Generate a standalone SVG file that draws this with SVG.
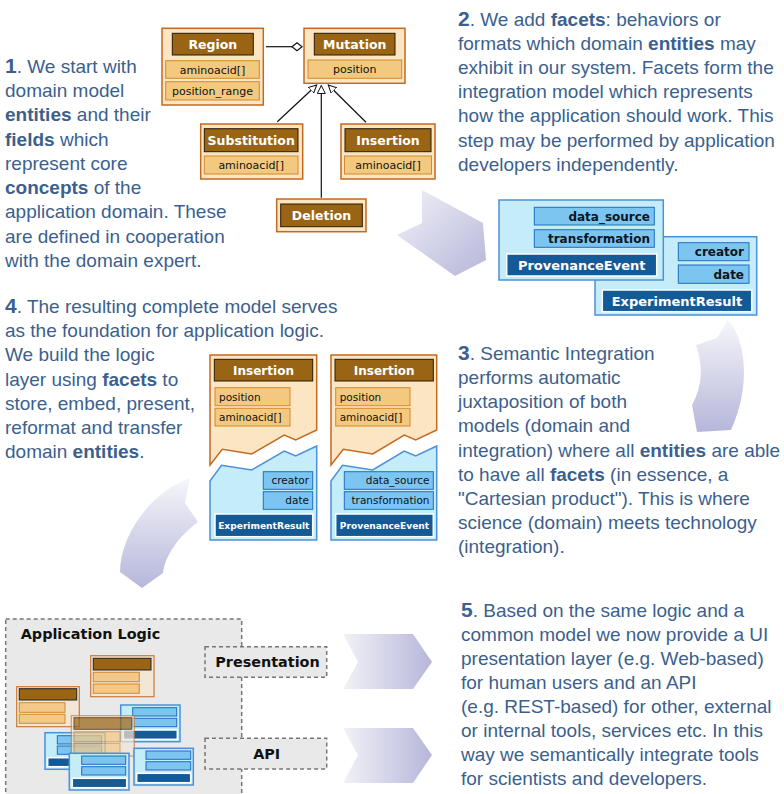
<svg xmlns="http://www.w3.org/2000/svg" width="784" height="794" viewBox="0 0 784 794">
<defs>
<style>
.txt{font-family:"Liberation Sans",Arial,sans-serif;font-size:19px;fill:#3c5f8d}
.num{font-weight:bold;font-size:21px}
.b{font-weight:bold}
.obox{fill:#fbe5c3;stroke:#c46a1f;stroke-width:1.5}
.ohead{fill:#996515;stroke:#2a1a05;stroke-width:1}
.ofld{fill:#f2c97e;stroke:#d5892e;stroke-width:1}
.bbox{fill:#c5edf9;stroke:#4b90d8;stroke-width:1.5}
.bfld{fill:#7cc5f0;stroke:#1f6ec0;stroke-width:1}
.bhead{fill:#145a96;stroke:#ffffff;stroke-width:1.5}
.ht{font-family:"DejaVu Sans",Verdana,sans-serif;font-weight:bold;fill:#ffffff;text-anchor:middle}
.ft{font-family:"DejaVu Sans",Verdana,sans-serif;fill:#111111}
.fb{font-family:"DejaVu Sans",Verdana,sans-serif;font-weight:bold;fill:#0d1520;text-anchor:end}
.dash{fill:#e9e9e9;stroke:#777777;stroke-width:1.5;stroke-dasharray:4,3}
.lt{font-family:"DejaVu Sans",Verdana,sans-serif;font-weight:bold;font-size:14.4px;fill:#111111}
.mo{fill:#f2e6d6;stroke:#c87a3a;stroke-width:1.2}
.mh{fill:#996515;stroke:#222222;stroke-width:1}
.mf{fill:#f2c98a;stroke:#d08a30;stroke-width:1}
.line{stroke:#111111;stroke-width:1.2;fill:none}
</style>
<linearGradient id="gh" x1="0" y1="0" x2="1" y2="0">
<stop offset="0" stop-color="#f2f2f8"/><stop offset="1" stop-color="#b6b6da"/>
</linearGradient>
<linearGradient id="gv" x1="0" y1="0" x2="0" y2="1">
<stop offset="0" stop-color="#f6f6fa"/><stop offset="1" stop-color="#b6b6da"/>
</linearGradient>
<linearGradient id="gd" x1="0" y1="0" x2="1" y2="1">
<stop offset="0" stop-color="#f2f2f8"/><stop offset="1" stop-color="#b6b6da"/>
</linearGradient>
<marker id="tri" markerWidth="9" markerHeight="9" refX="8" refY="4" orient="auto" markerUnits="userSpaceOnUse">
<path d="M0,0 L8,4 L0,8 Z" fill="#ffffff" stroke="#111111" stroke-width="1"/>
</marker>
</defs>
<rect width="784" height="794" fill="#ffffff"/>

<!-- Text blocks -->
<g id="text1" class="txt">
<text x="5" y="73"><tspan class="num">1</tspan>. We start with</text>
<text x="5" y="97">domain model</text>
<text x="5" y="121"><tspan class="b">entities</tspan> and their</text>
<text x="5" y="146"><tspan class="b">fields</tspan> which</text>
<text x="5" y="170">represent core</text>
<text x="5" y="194"><tspan class="b">concepts</tspan> of the</text>
<text x="5" y="218">application domain. These</text>
<text x="5" y="243">are defined in cooperation</text>
<text x="5" y="267">with the domain expert.</text>
</g>
<g id="text2" class="txt">
<text x="458" y="26"><tspan class="num">2</tspan>. We add <tspan class="b">facets</tspan>: behaviors or</text>
<text x="458" y="50">formats which domain <tspan class="b">entities</tspan> may</text>
<text x="458" y="74">exhibit in our system. Facets form the</text>
<text x="458" y="98">integration model which represents</text>
<text x="458" y="122">how the application should work. This</text>
<text x="458" y="147">step may be performed by application</text>
<text x="458" y="171">developers independently.</text>
</g>
<g id="text3" class="txt">
<text x="458" y="360"><tspan class="num">3</tspan>. Semantic Integration</text>
<text x="458" y="384">performs automatic</text>
<text x="458" y="408">juxtaposition of both</text>
<text x="458" y="432">models (domain and</text>
<text x="458" y="457">integration) where all <tspan class="b">entities</tspan> are able</text>
<text x="458" y="481">to have all <tspan class="b">facets</tspan> (in essence, a</text>
<text x="458" y="505">"Cartesian product"). This is where</text>
<text x="458" y="529">science (domain) meets technology</text>
<text x="458" y="553">(integration).</text>
</g>
<g id="text4" class="txt">
<text x="5" y="313"><tspan class="num">4</tspan>. The resulting complete model serves</text>
<text x="5" y="337">as the foundation for application logic.</text>
<text x="5" y="361">We build the logic</text>
<text x="5" y="386">layer using <tspan class="b">facets</tspan> to</text>
<text x="5" y="410">store, embed, present,</text>
<text x="5" y="434">reformat and transfer</text>
<text x="5" y="458">domain <tspan class="b">entities</tspan>.</text>
</g>
<g id="text5" class="txt">
<text x="461" y="617"><tspan class="num">5</tspan>. Based on the same logic and a</text>
<text x="461" y="641">common model we now provide a UI</text>
<text x="461" y="665">presentation layer (e.g. Web-based)</text>
<text x="461" y="689">for human users and an API</text>
<text x="461" y="713">(e.g. REST-based) for other, external</text>
<text x="461" y="737">or internal tools, services etc. In this</text>
<text x="461" y="761">way we semantically integrate tools</text>
<text x="461" y="785">for scientists and developers.</text>
</g>

<!-- Big flow arrows -->
<g id="flow-arrows">
<path d="M422,190 L483,223 L486,260 L455,276 L397,235 L422,223 Z" fill="url(#gd)"/>
<path d="M728,320 C745,338 752,385 731,430 L697,432 L692,405 C703,385 703,365 696,345 L717,338 Z" fill="url(#gv)"/>
<path d="M190,478 L185,503 L198,522 C180,535 165,555 163,573 L142,588 L120,572 C120,540 145,495 190,478 Z" fill="url(#gv)"/>
<path d="M343,634 L413,634 L432,662 L413,689 L343,689 L358,662 Z" fill="url(#gh)"/>
<path d="M343,728 L413,728 L432,755 L413,783 L343,783 L358,755 Z" fill="url(#gh)"/>
</g>

<!-- UML connectors -->
<g id="connectors">
<line x1="266" y1="46.7" x2="292" y2="46.7" class="line"/>
<path d="M292,46.7 L297,42.7 L302,46.7 L297,50.7 Z" fill="#ffffff" stroke="#111111" stroke-width="1.2"/>
<line x1="277.3" y1="121.7" x2="316.7" y2="85" class="line" marker-end="url(#tri)"/>
<line x1="321.3" y1="197.7" x2="321.3" y2="85.5" class="line" marker-end="url(#tri)"/>
<line x1="366" y1="122.3" x2="328.3" y2="85" class="line" marker-end="url(#tri)"/>
</g>

<!-- UML nodes -->
<g id="region">
<rect x="162" y="28.3" width="101.3" height="76.7" class="obox"/>
<rect x="172.3" y="33.3" width="81" height="21.7" class="ohead"/>
<text x="212.8" y="48.6" class="ht" font-size="12.5">Region</text>
<rect x="165.7" y="60.7" width="93.6" height="17.6" class="ofld"/>
<text x="212.5" y="73.5" class="ft" font-size="11" text-anchor="middle">aminoacid[]</text>
<rect x="165.7" y="81.7" width="93.6" height="18.3" class="ofld"/>
<text x="212.5" y="94.8" class="ft" font-size="11" text-anchor="middle">position_range</text>
</g>
<g id="mutation">
<rect x="304" y="28.3" width="101" height="55" class="obox"/>
<rect x="314.3" y="33.3" width="80.7" height="21.7" class="ohead"/>
<text x="354.7" y="48.6" class="ht" font-size="12.5">Mutation</text>
<rect x="308" y="60" width="93.7" height="18.3" class="ofld"/>
<text x="354.8" y="73.2" class="ft" font-size="11" text-anchor="middle">position</text>
</g>
<g id="substitution">
<rect x="200.7" y="124" width="102" height="55" class="obox"/>
<rect x="204.3" y="128.7" width="93.7" height="23" class="ohead"/>
<text x="251.2" y="144.6" class="ht" font-size="12.5">Substitution</text>
<rect x="204.3" y="156" width="93.7" height="18" class="ofld"/>
<text x="251.2" y="169" class="ft" font-size="11" text-anchor="middle">aminoacid[]</text>
</g>
<g id="insertion">
<rect x="341" y="124" width="94" height="55" class="obox"/>
<rect x="345" y="128.7" width="86" height="23" class="ohead"/>
<text x="388" y="144.6" class="ht" font-size="12.5">Insertion</text>
<rect x="344.5" y="156" width="87" height="18" class="ofld"/>
<text x="388" y="169" class="ft" font-size="11" text-anchor="middle">aminoacid[]</text>
</g>
<g id="deletion">
<rect x="276.7" y="199" width="89.3" height="32.7" class="obox"/>
<rect x="280.7" y="204" width="81.6" height="22.7" class="ohead"/>
<text x="321.5" y="219.8" class="ht" font-size="12.5">Deletion</text>
</g>

<!-- Facet models -->
<g id="experimentresult">
<rect x="595" y="236.7" width="161.7" height="78.3" class="bbox"/>
<rect x="678.3" y="242.7" width="70.7" height="18" class="bfld"/>
<text x="744" y="256.2" class="fb" font-size="12">creator</text>
<rect x="678.3" y="265" width="70.7" height="18.3" class="bfld"/>
<text x="744" y="278.6" class="fb" font-size="12">date</text>
<rect x="602.3" y="290" width="149.4" height="21.7" class="bhead"/>
<text x="677" y="305.6" class="ht" font-size="13">ExperimentResult</text>
</g>
<g id="provenanceevent">
<rect x="499" y="200" width="164.3" height="80" class="bbox"/>
<rect x="534.3" y="207.3" width="120" height="17.7" class="bfld"/>
<text x="650" y="220.6" class="fb" font-size="12">data_source</text>
<rect x="534.3" y="229.7" width="120" height="17.6" class="bfld"/>
<text x="650" y="243" class="fb" font-size="12">transformation</text>
<rect x="506.7" y="254" width="150" height="22" class="bhead"/>
<text x="581.7" y="269.6" class="ht" font-size="13">ProvenanceEvent</text>
</g>

<!-- Combined models -->
<g id="insertion-experimentresult">
<path d="M210,465 L210,355 L316.7,355 L316.7,430 L295.7,440 L284.3,435 L251.7,454 L222.3,449.3 Z" class="obox"/>
<path d="M210,540 L210,481 L221.5,465.3 L251.7,470 L284.3,451 L295.7,456 L316.7,446 L316.7,540 Z" class="bbox"/>
<rect x="214.3" y="359.3" width="98.4" height="21.7" class="ohead"/>
<text x="263.5" y="374.6" class="ht" font-size="12">Insertion</text>
<rect x="215" y="387.7" width="75" height="18" class="ofld"/>
<text x="219" y="400.5" class="ft" font-size="10.5">position</text>
<rect x="215" y="408.3" width="75" height="17.7" class="ofld"/>
<text x="219" y="421" class="ft" font-size="10.5">aminoacid[]</text>
<rect x="263.3" y="471.7" width="49.4" height="17.6" class="bfld"/>
<text x="309" y="484.3" class="ft" font-size="10.5" text-anchor="end">creator</text>
<rect x="263.3" y="491.7" width="49.4" height="17.6" class="bfld"/>
<text x="309" y="504.3" class="ft" font-size="10.5" text-anchor="end">date</text>
<rect x="215" y="514" width="97.7" height="22.7" class="bhead"/>
<text x="263.8" y="528.6" class="ht" font-size="9.1">ExperimentResult</text>
</g>
<g id="insertion-provenanceevent">
<path d="M331,465 L331,355 L436.7,355 L436.7,430 L415.7,440 L404.3,435 L372.7,454 L343.3,449.3 Z" class="obox"/>
<path d="M331,540 L331,481 L342.5,465.3 L372.7,470 L404.3,451 L415.7,456 L436.7,446 L436.7,540 Z" class="bbox"/>
<rect x="335" y="359.3" width="98.3" height="21.7" class="ohead"/>
<text x="384.2" y="374.6" class="ht" font-size="12">Insertion</text>
<rect x="335.7" y="387.7" width="74.3" height="18" class="ofld"/>
<text x="339.7" y="400.5" class="ft" font-size="10.5">position</text>
<rect x="335.7" y="408.3" width="74.3" height="17.7" class="ofld"/>
<text x="339.7" y="421" class="ft" font-size="10.5">aminoacid[]</text>
<rect x="344.3" y="471.7" width="89" height="17.6" class="bfld"/>
<text x="429.5" y="484.3" class="ft" font-size="10.5" text-anchor="end">data_source</text>
<rect x="344.3" y="491.7" width="89" height="17.6" class="bfld"/>
<text x="429.5" y="504.3" class="ft" font-size="10.5" text-anchor="end">transformation</text>
<rect x="335.7" y="514" width="97.6" height="22.7" class="bhead"/>
<text x="384.5" y="528.6" class="ht" font-size="9.1">ProvenanceEvent</text>
</g>

<!-- Application logic -->
<g id="application-logic">
<rect x="5.7" y="619" width="236" height="190" class="dash"/>
<text x="20.7" y="639.3" class="lt">Application Logic</text>
<g id="mini-a">
<rect x="90.7" y="655.7" width="63.3" height="41" class="mo"/>
<rect x="93.3" y="658.3" width="57.7" height="11.7" class="mh"/>
<rect x="93.3" y="672.3" width="46" height="9.4" class="mf"/>
<rect x="93.3" y="684" width="46" height="9.3" class="mf"/>
</g>
<g id="mini-b">
<rect x="16.7" y="686.7" width="62.6" height="40" class="mo"/>
<rect x="19.3" y="688.7" width="57.4" height="11.3" class="mh"/>
<rect x="19.3" y="702.7" width="45.7" height="9.6" class="mf"/>
<rect x="19.3" y="714.3" width="45.7" height="9" class="mf"/>
</g>
<g id="mini-c">
<rect x="120.7" y="705" width="59.3" height="36.7" class="bbox"/>
<rect x="132.7" y="707.7" width="44" height="8.3" class="bfld"/>
<rect x="132.7" y="718.3" width="44" height="8.4" class="bfld"/>
<rect x="123.3" y="730" width="54" height="9.3" class="bhead"/>
</g>
<g id="mini-d">
<rect x="45" y="732.7" width="60" height="36.6" class="bbox"/>
<rect x="57.3" y="735.7" width="44.4" height="8.3" class="bfld"/>
<rect x="57.3" y="746" width="44.4" height="8.3" class="bfld"/>
<rect x="47.7" y="757.7" width="54" height="9" class="bhead"/>
</g>
<g id="mini-e" opacity="0.72">
<rect x="71.3" y="715.7" width="63" height="40.3" class="mo"/>
<rect x="74" y="717.7" width="57.7" height="11.6" class="mh"/>
<rect x="74" y="731.7" width="46" height="10" class="mf"/>
<rect x="74" y="743.3" width="46" height="10" class="mf"/>
</g>
<g id="mini-f">
<rect x="69.3" y="753.3" width="59.7" height="36.7" class="bbox"/>
<rect x="81.7" y="756" width="44" height="8.3" class="bfld"/>
<rect x="81.7" y="766.7" width="44" height="8.3" class="bfld"/>
<rect x="72.3" y="778.3" width="54.4" height="9.4" class="bhead"/>
</g>
<g id="mini-g">
<rect x="134" y="748.3" width="59.3" height="36.7" class="bbox"/>
<rect x="146" y="751" width="44.7" height="8.3" class="bfld"/>
<rect x="146" y="761.7" width="44.7" height="8.3" class="bfld"/>
<rect x="136.7" y="773.3" width="54" height="9.4" class="bhead"/>
</g>
</g>
<g id="presentation">
<rect x="205" y="646.7" width="121.7" height="30.6" class="dash"/>
<text x="267.5" y="666.7" class="lt" text-anchor="middle">Presentation</text>
</g>
<g id="api">
<rect x="205" y="738.3" width="121.7" height="30.7" class="dash"/>
<text x="266.7" y="758.5" class="lt" text-anchor="middle">API</text>
</g>
</svg>
